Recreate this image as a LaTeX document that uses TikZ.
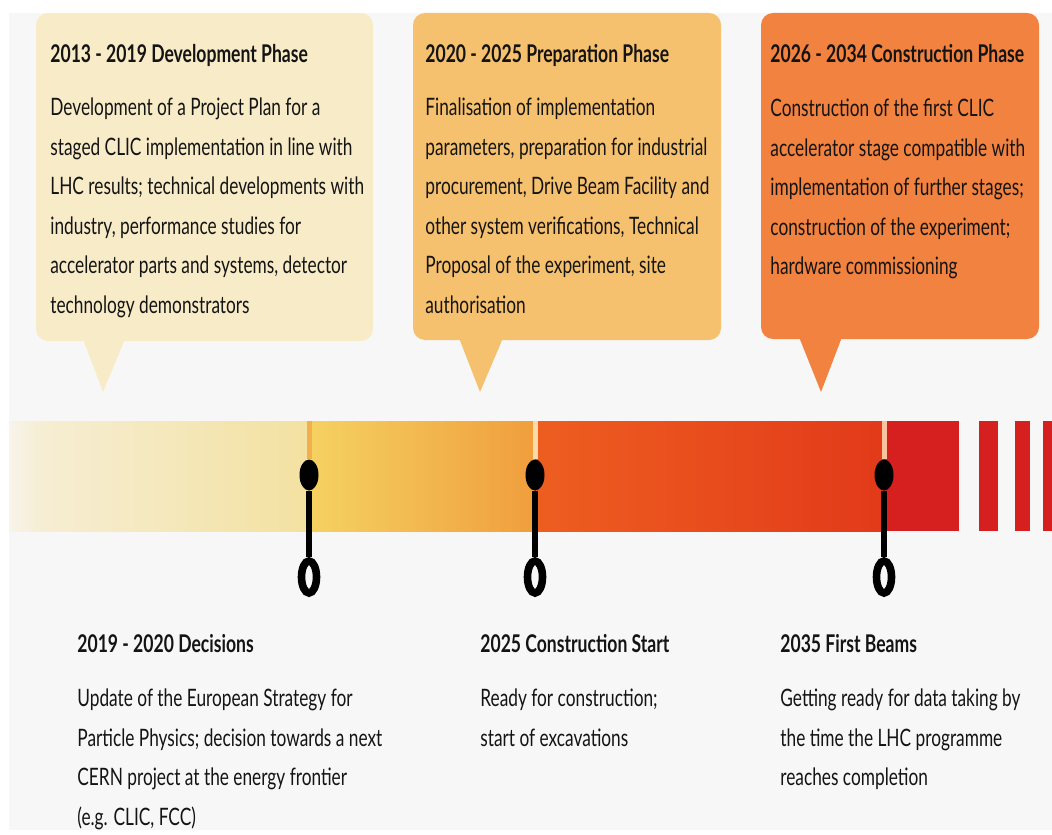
\documentclass[tikz,border=0pt]{standalone}
\usepackage{fontspec}
\setmainfont[FakeStretch=0.72]{Lato}
\usetikzlibrary{shapes.geometric,positioning}
\definecolor{pagegray}{HTML}{F7F7F7}
\definecolor{devbox}{HTML}{F8ECC8}
\definecolor{prepbox}{HTML}{F6C16E}
\definecolor{constbox}{HTML}{F28240}
\definecolor{creamL}{HTML}{F7F4EA}
\definecolor{creamM}{HTML}{F6EED4}
\definecolor{creamR}{HTML}{F3E1A0}
\definecolor{yellowL}{HTML}{F5D262}
\definecolor{orangeR}{HTML}{F09E3C}
\definecolor{redL}{HTML}{EE5E20}
\definecolor{redR}{HTML}{E23A1A}
\definecolor{deepred}{HTML}{D62020}
\definecolor{tickA}{HTML}{F2B04C}
\definecolor{tickB}{HTML}{FBD9A8}
\definecolor{tickC}{HTML}{F9C3A0}
\definecolor{inktext}{HTML}{141414}

\begin{document}
\begin{tikzpicture}[x=0.5pt,y=-0.5pt,
    dot/.style={ellipse,fill=black,inner sep=0pt,minimum width=9.5pt,minimum height=15.5pt},
    ring/.style={ellipse,draw=black,fill=pagegray,line width=3.8pt,inner sep=0pt,minimum width=7.5pt,minimum height=16pt},
    stem/.style={line width=3pt,black},
    tick/.style={line width=2.5pt},
    heading/.style={anchor=north west,inner sep=0pt,align=left,text=inktext,font=\fontsize{12.2}{14}\selectfont\bfseries},
    bodytext/.style={anchor=north west,inner sep=0pt,align=left,text=inktext,font=\fontsize{12}{19.75}\selectfont}]
   \useasboundingbox (0,0) rectangle (1052,834);
   \fill[pagegray] (9,13) rectangle (1052,830);

   % callouts
   \fill[devbox,rounded corners=6] (36,13) rectangle (373,341);
   \fill[devbox] (83,339) -- (103,392) -- (125,339) -- cycle;
   \fill[prepbox,rounded corners=6] (413,13) rectangle (721,340);
   \fill[prepbox] (459,338) -- (480,392) -- (503,338) -- cycle;
   \fill[constbox,rounded corners=6] (761,13) rectangle (1039,339);
   \fill[constbox] (799,337) -- (821,392) -- (842,337) -- cycle;

   % timeline bar
   \shade[left color=creamL,right color=creamM] (9,421) rectangle (40,531);
   \shade[left color=creamM,right color=creamR] (40,421) rectangle (309,531);
   \shade[left color=yellowL,right color=orangeR] (309,421) rectangle (535,531);
   \shade[left color=redL,right color=redR] (535,421) rectangle (884,531);
   \fill[deepred] (884,421) rectangle (959,531);
   \fill[deepred] (979,421) rectangle (998,531);
   \fill[deepred] (1015,421) rectangle (1030,531);
   \fill[deepred] (1043,421) rectangle (1052,531);

   \coordinate (t1) at (309,421);
   \coordinate (t2) at (535,421);
   \coordinate (t3) at (884,421);
   \node[dot] (d1) at (309,475) {};
   \node[dot] (d2) at (535,475) {};
   \node[dot] (d3) at (884,475) {};
   \node[ring] (r1) at (309,577) {};
   \node[ring] (r2) at (535,577) {};
   \node[ring] (r3) at (884,577) {};
   \draw[tick,tickA] (t1) -- (d1.north);
   \draw[tick,tickB] (t2) -- (d2.north);
   \draw[tick,tickC] (t3) -- (d3.north);
   \draw[stem] (d1.south) -- (r1.north);
   \draw[stem] (d2.south) -- (r2.north);
   \draw[stem] (d3.south) -- (r3.north);

   % phase texts
   \node[heading] (devhead) at (50,44) {2013 - 2019 Development Phase};
   \node[bodytext] (devbody) at (50,97.5) {Development of a Project Plan for a\\
      staged CLIC implementation in line with\\
      LHC results; technical developments with\\
      industry, performance studies for\\
      accelerator parts and systems, detector\\
      technology demonstrators};
   \node[heading] (prephead) at (425,44) {2020 - 2025 Preparation Phase};
   \node[bodytext] (prepbody) at (425,97.5) {Finalisation of implementation\\
      parameters, preparation for industrial\\
      procurement, Drive Beam Facility and\\
      other system verifications, Technical\\
      Proposal of the experiment, site\\
      authorisation};
   \node[heading] (consthead) at (770,44) {2026 - 2034 Construction Phase};
   \node[bodytext] (constbody) at (770,98.5) {Construction of the first CLIC\\
      accelerator stage compatible with\\
      implementation of further stages;\\
      construction of the experiment;\\
      hardware commissioning};

   % milestone texts
   \node[heading] (dechead) at (77,634) {2019 - 2020 Decisions};
   \node[bodytext] (decbody) at (77,688.5) {Update of the European Strategy for\\
      Particle Physics; decision towards a next\\
      CERN project at the energy frontier\\
      (e.g. CLIC, FCC)};
   \node[heading] (starthead) at (480,634) {2025 Construction Start};
   \node[bodytext] (startbody) at (480,688.5) {Ready for construction;\\
      start of excavations};
   \node[heading] (beamhead) at (780,634) {2035 First Beams};
   \node[bodytext] (beambody) at (780,688.5) {Getting ready for data taking by\\
      the time the LHC programme\\
      reaches completion};
\end{tikzpicture}
\end{document}
